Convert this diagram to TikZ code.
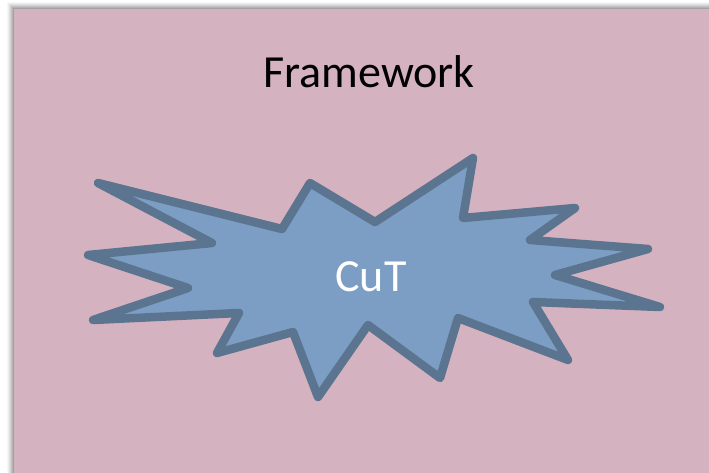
\documentclass[tikz,border=0pt]{standalone}
\usepackage{fontspec}
\setmainfont{Carlito}
\definecolor{bgpink}{HTML}{D5B2C0}
\definecolor{burstfill}{HTML}{7C9EC4}
\definecolor{burstline}{HTML}{5B7590}
\begin{document}
\begin{tikzpicture}[x=1pt,y=-1pt,
  lbl/.style={font=\fontsize{46}{50}\selectfont, inner sep=0pt}]
\useasboundingbox (0,0) rectangle (709,473);
\fill[white] (0,0) rectangle (709,473);
% soft shadow
\foreach \d/\o in {7/0.03,6/0.04,5/0.05,4/0.06,3/0.07,2/0.08,1/0.09}{
  \fill[black,opacity=\o] (14-\d,9-\d) rectangle (712,476);
}
\fill[bgpink] (14,9) rectangle (712,476);
% starburst
\draw[fill=burstfill, draw=burstline, line width=8.5pt, line join=round]
 (98,183) -- (282,229) -- (310,183) -- (375,222) -- (473,158) -- (463,218)
 -- (575,208) -- (530,240) -- (648,249) -- (555,275) -- (660,307) -- (533,302)
 -- (568,360) -- (458,318) -- (440,378) -- (368,325) -- (318,397) -- (293,332)
 -- (217,353) -- (239,313) -- (93,320) -- (188,288) -- (88,255) -- (212,243) -- cycle;
\node[lbl, text=black] (fw) at (369,72) {Framework};
\node[lbl, text=white] (cut) at (371,277) {CuT};
\end{tikzpicture}
\end{document}
